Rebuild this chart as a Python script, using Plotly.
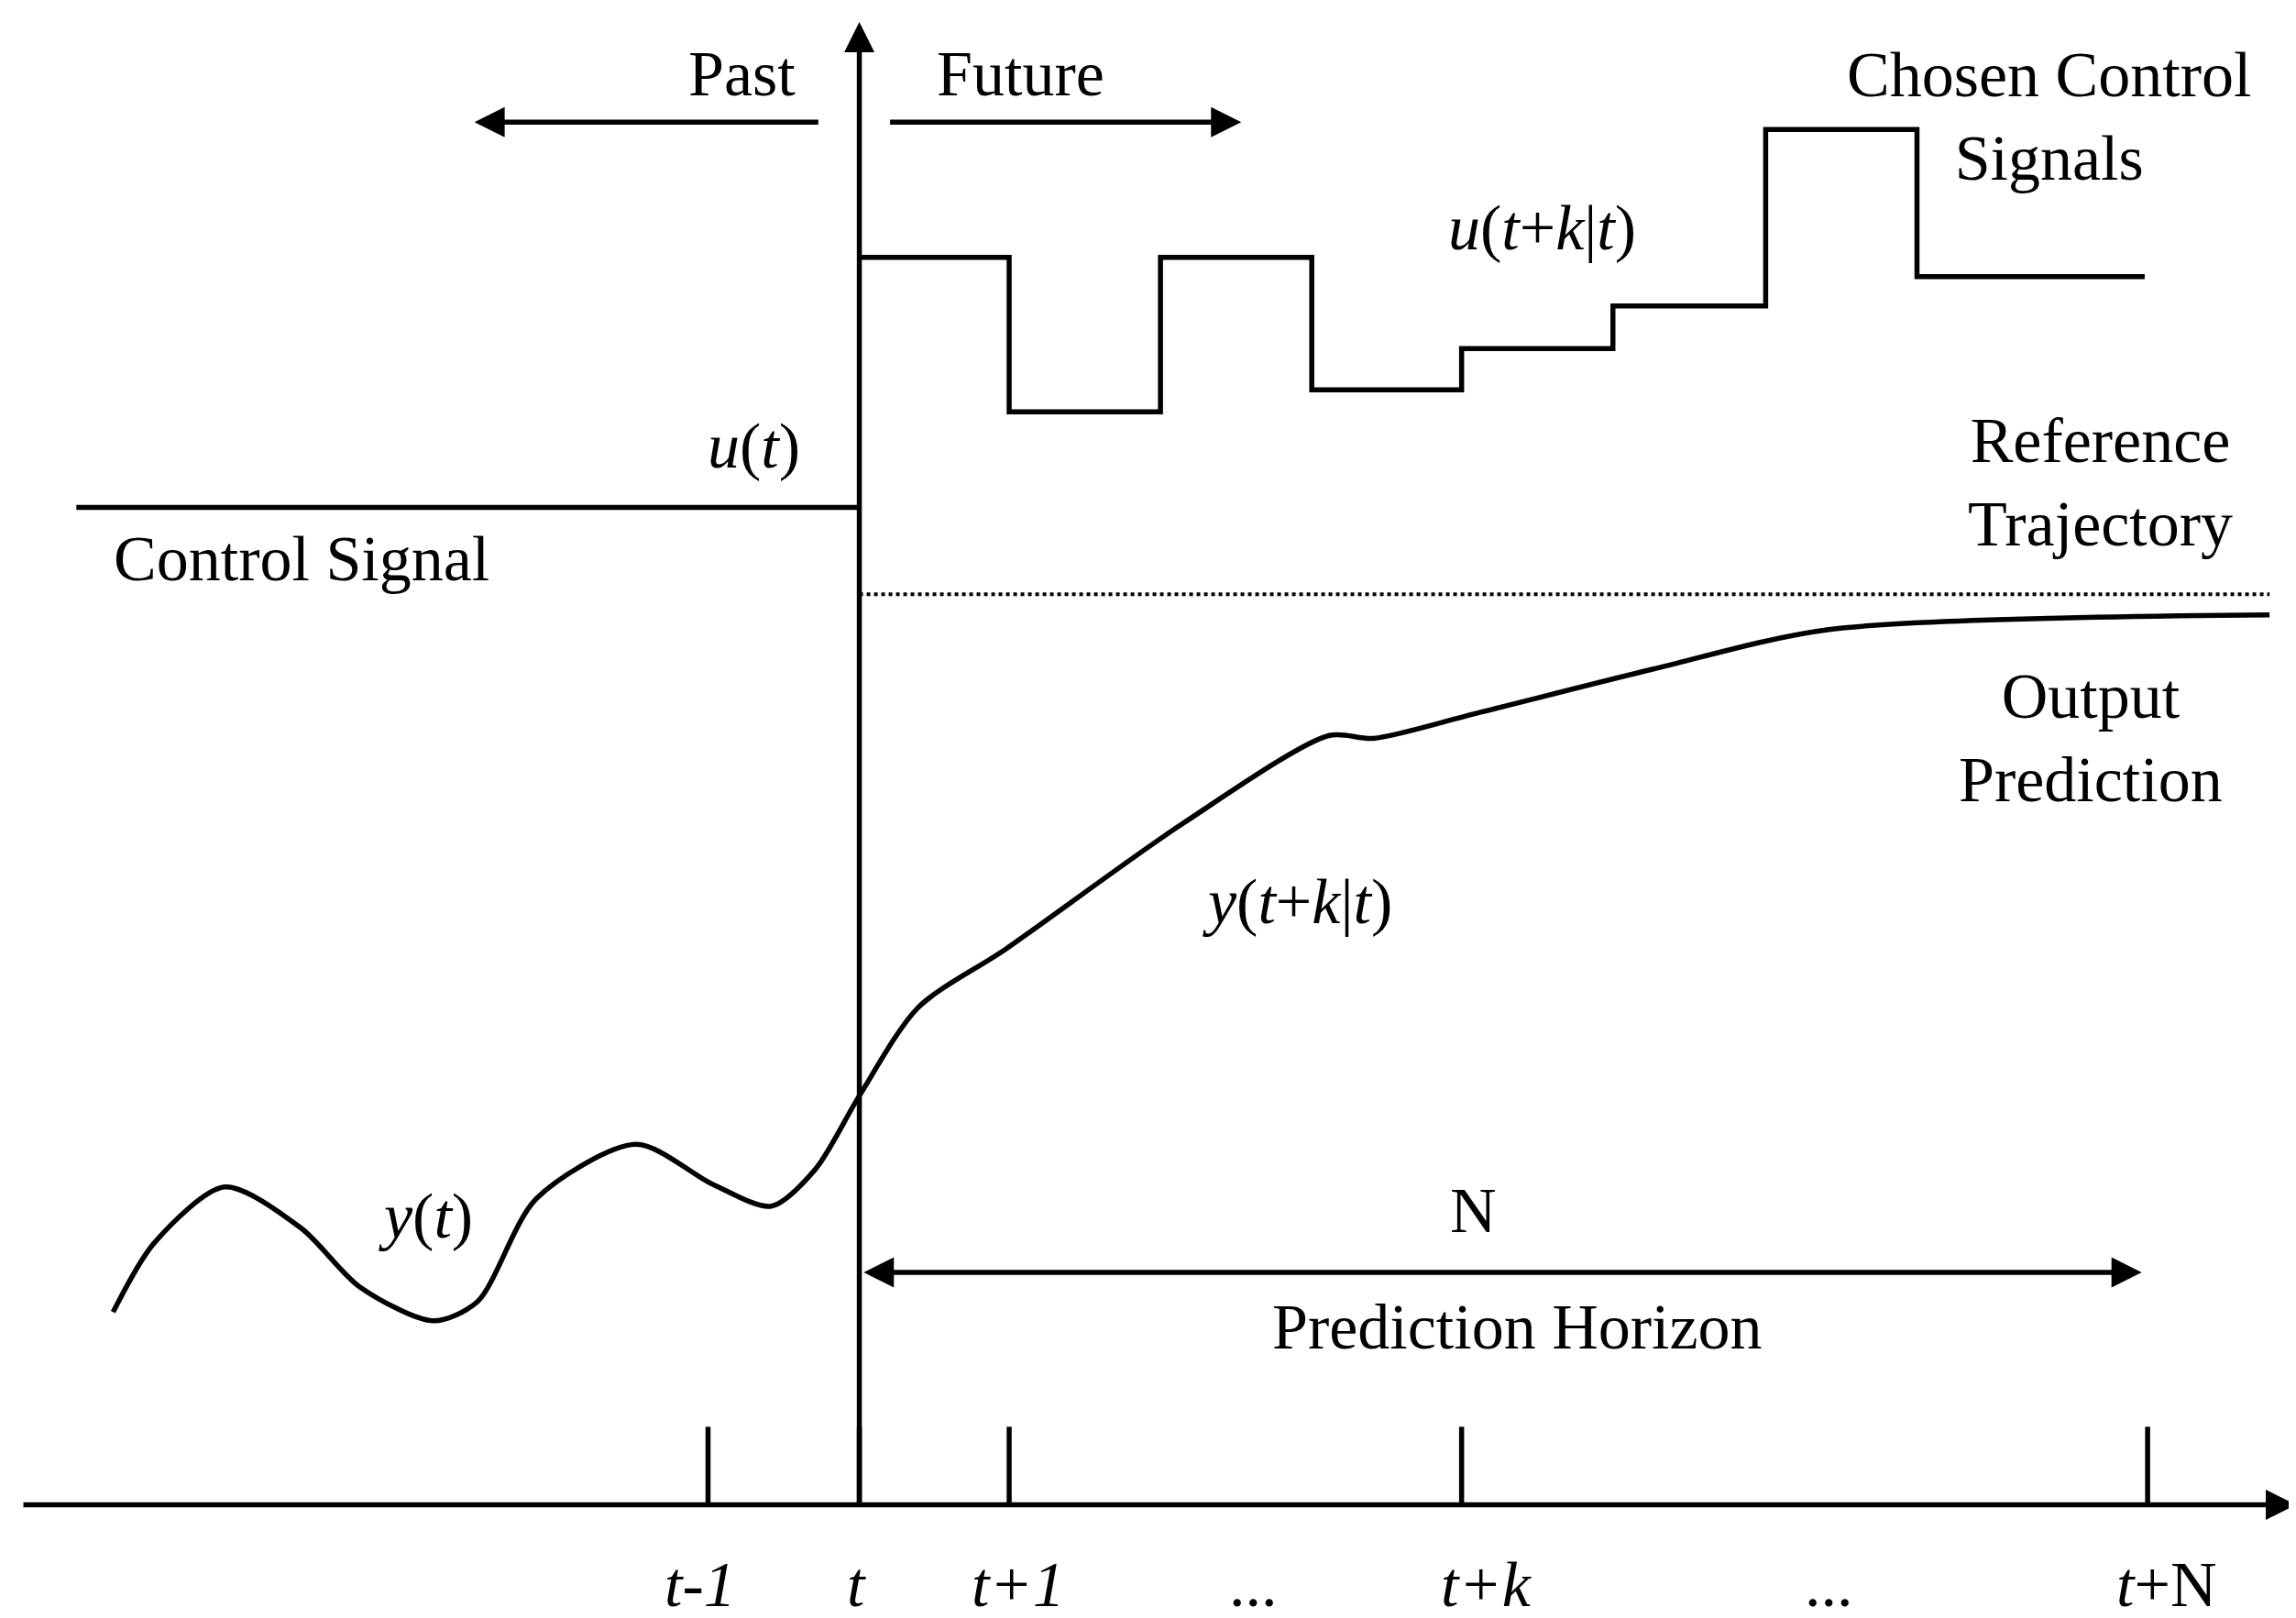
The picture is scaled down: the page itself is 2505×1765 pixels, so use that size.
import plotly.graph_objects as go

# coordinates in a 1563 x 1100 drawing frame (y grows downward)
tick_x = [477, 580, 682, 990, 1457]
tick_labels = ["<i>t-1</i>", "<i>t</i>", "<i>t+1</i>", "...", "<i>t+k</i>", "...", "<i>t</i>+N"]
tick_label_x = [472, 578, 688, 848, 1007, 1240, 1470]

u_step_x = [580, 682, 785, 888, 990, 1093, 1197, 1300, 1455]
u_step_y = [170, 275, 170, 260, 232, 203, 83, 183]

past_u_x = [47, 580]
past_u_y = [340, 340]

ref_x = [580, 1540]
ref_y = [399, 399]

y_curve_x = [72, 100, 148, 200, 240, 290, 320, 360, 428, 480, 520, 550, 580, 620,
             680, 800, 900, 930, 1000, 1120, 1240, 1540]
y_curve_y = [887, 840, 802, 830, 870, 893, 880, 810, 773, 800, 815, 790, 740, 680,
             640, 555, 495, 497, 480, 450, 423, 413]

W, H = 2505, 1765
FONT = "Liberation Serif"
LW = 5.5

fig = go.Figure()

# stepwise future control
sx, sy = [], []
for i, v in enumerate(u_step_y):
    sx += [u_step_x[i], u_step_x[i + 1]]
    sy += [v, v]
fig.add_trace(go.Scatter(x=sx, y=sy, mode="lines", line=dict(color="black", width=LW)))
fig.add_trace(go.Scatter(x=past_u_x, y=past_u_y, mode="lines", line=dict(color="black", width=LW)))
fig.add_trace(go.Scatter(x=ref_x, y=ref_y, mode="lines", line=dict(color="black", width=4, dash="dot")))
fig.add_trace(go.Scatter(x=y_curve_x, y=y_curve_y, mode="lines",
                         line=dict(color="black", width=LW, shape="spline", smoothing=0.8)))

# ticks
for tx in tick_x:
    fig.add_trace(go.Scatter(x=[tx, tx], y=[965, 1018], mode="lines", line=dict(color="black", width=LW)))


def arrow(x0, y0, x1, y1, both=False):
    fig.add_annotation(x=x1, y=y1, ax=x0, ay=y0, xref="x", yref="y", axref="x", ayref="y",
                       text="", showarrow=True, arrowhead=2, arrowsize=1.2, arrowwidth=LW,
                       arrowcolor="black", arrowside="end+start" if both else "end",
                       startarrowhead=2, startarrowsize=1.2)


arrow(10, 1018, 1558, 1018)
arrow(580, 1018, 580, 10)
arrow(553, 78, 318, 78)
arrow(600, 78, 840, 78)
arrow(582, 860, 1453, 860, both=True)

texts = [
    (500, 45, "Past"), (690, 45, "Future"),
    (200, 375, "Control Signal"), (508, 298, "<i>u</i>(<i>t</i>)"),
    (1045, 150, "<i>u</i>(<i>t</i>+<i>k</i>|<i>t</i>)"),
    (1390, 74, "Chosen Control<br>Signals"),
    (1425, 323, "Reference<br>Trajectory"),
    (1418, 497, "Output<br>Prediction"),
    (878, 608, "<i>y</i>(<i>t</i>+<i>k</i>|<i>t</i>)"),
    (285, 822, "<i>y</i>(<i>t</i>)"),
    (998, 818, "N"), (1028, 897, "Prediction Horizon"),
]
for x, y, t in texts:
    fig.add_annotation(x=x, y=y, text=t, showarrow=False, xref="x", yref="y",
                       font=dict(family=FONT, size=70, color="black"))
for x, t in zip(tick_label_x, tick_labels):
    fig.add_annotation(x=x, y=1072, text=t, showarrow=False, xref="x", yref="y",
                       font=dict(family=FONT, size=70, color="black"))

fig.update_layout(
    width=W, height=H, showlegend=False,
    margin=dict(l=0, r=0, t=0, b=0),
    plot_bgcolor="white", paper_bgcolor="white",
    xaxis=dict(range=[0, 1563], visible=False),
    yaxis=dict(range=[1100, 0], visible=False),
)
fig.write_html("out.html")
